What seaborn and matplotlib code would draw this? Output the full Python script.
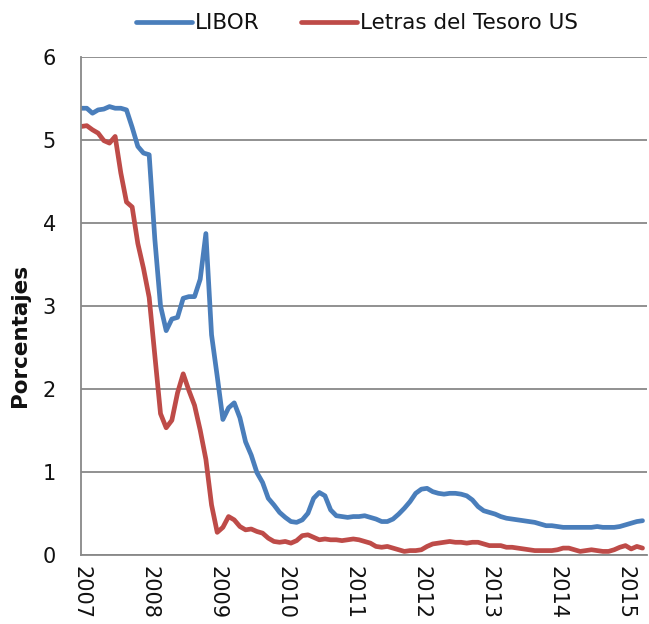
import numpy as np
import pandas as pd
import matplotlib
matplotlib.use("Agg")
import matplotlib.pyplot as plt
import seaborn as sns

# monthly data, Jan 2007 .. Apr 2015
start_year = 2007
libor = [
    5.38, 5.38, 5.32, 5.36, 5.37, 5.40, 5.38, 5.38, 5.36, 5.15,
    4.92, 4.84, 4.82, 3.80, 3.00, 2.70, 2.84, 2.86, 3.09, 3.11,
    3.11, 3.32, 3.87, 2.65, 2.15, 1.63, 1.77, 1.83, 1.65, 1.36,
    1.20, 0.99, 0.87, 0.68, 0.60, 0.51, 0.45, 0.40, 0.39, 0.42,
    0.50, 0.68, 0.75, 0.71, 0.54, 0.47, 0.46, 0.45, 0.46, 0.46,
    0.47, 0.45, 0.43, 0.40, 0.40, 0.43, 0.49, 0.56, 0.64, 0.74,
    0.79, 0.80, 0.76, 0.74, 0.73, 0.74, 0.74, 0.73, 0.71, 0.66,
    0.58, 0.53, 0.51, 0.49, 0.46, 0.44, 0.43, 0.42, 0.41, 0.40,
    0.39, 0.37, 0.35, 0.35, 0.34, 0.33, 0.33, 0.33, 0.33, 0.33,
    0.33, 0.34, 0.33, 0.33, 0.33, 0.34, 0.36, 0.38, 0.40, 0.41,
]
tbills = [
    5.16, 5.17, 5.12, 5.08, 4.99, 4.96, 5.04, 4.60, 4.25, 4.19,
    3.75, 3.45, 3.10, 2.40, 1.70, 1.53, 1.62, 1.95, 2.18, 1.98,
    1.80, 1.50, 1.15, 0.60, 0.27, 0.33, 0.46, 0.42, 0.34, 0.30,
    0.31, 0.28, 0.26, 0.20, 0.16, 0.15, 0.16, 0.14, 0.17, 0.23,
    0.24, 0.21, 0.18, 0.19, 0.18, 0.18, 0.17, 0.18, 0.19, 0.18,
    0.16, 0.14, 0.10, 0.09, 0.10, 0.08, 0.06, 0.04, 0.05, 0.05,
    0.06, 0.10, 0.13, 0.14, 0.15, 0.16, 0.15, 0.15, 0.14, 0.15,
    0.15, 0.13, 0.11, 0.11, 0.11, 0.09, 0.09, 0.08, 0.07, 0.06,
    0.05, 0.05, 0.05, 0.05, 0.06, 0.08, 0.08, 0.06, 0.04, 0.05,
    0.06, 0.05, 0.04, 0.04, 0.06, 0.09, 0.11, 0.07, 0.10, 0.08,
]
series_names = ["LIBOR", "Letras del Tesoro US"]
year_ticks = list(range(2007, 2016))

# long-form table for seaborn
t = start_year + np.arange(len(libor)) / 12
df = pd.DataFrame({"fecha": t, series_names[0]: libor, series_names[1]: tbills})
df = df.melt(id_vars="fecha", var_name="serie", value_name="valor")

sns.set_style("white")
plt.rcParams["font.family"] = ["DejaVu Sans"]
plt.rcParams["text.color"] = "#111111"
plt.rcParams["axes.labelcolor"] = "#111111"

fig = plt.figure(figsize=(6.49, 6.24), dpi=100)
ax = fig.add_axes([0.125, 0.111, 0.872, 0.798])

palette = {"LIBOR": "#4A7EBB", "Letras del Tesoro US": "#BE4B48"}
sns.lineplot(data=df, x="fecha", y="valor", hue="serie", palette=palette,
             linewidth=3.4, ax=ax)

grid_col = "#888888"
ax.set_xlim(2007, 2007 + 99.8 / 12)
ax.set_ylim(0, 6)
ax.set_yticks(range(0, 7))
ax.set_xticks(year_ticks)
ax.set_xticklabels([str(y) for y in year_ticks], rotation=-90, fontsize=15)
ax.tick_params(axis="y", labelsize=15, direction="out", length=6, width=1.2,
               color=grid_col, pad=12, labelcolor="#111111")
ax.tick_params(axis="x", direction="inout", length=12, width=1.2,
               color=grid_col, pad=2, labelcolor="#111111")
ax.yaxis.grid(True, color=grid_col, linewidth=1.3)
ax.set_axisbelow(True)
for side in ["top", "right"]:
    ax.spines[side].set_visible(False)
for side in ["left", "bottom"]:
    ax.spines[side].set_color(grid_col)
    ax.spines[side].set_linewidth(1.3)

ax.set_xlabel("")
ax.set_ylabel("Porcentajes", fontsize=15.5, fontweight="bold")
ax.yaxis.set_label_coords(-0.09, 0.44)

handles, labels = ax.get_legend_handles_labels()
ax.legend_.remove()
fig.legend(handles, labels, loc="upper center", bbox_to_anchor=(0.55, 1.01),
           ncol=2, frameon=False, fontsize=15.5, handlelength=2.6,
           handletextpad=0.15, columnspacing=1.9)

plt.savefig("out.png", dpi=100)
